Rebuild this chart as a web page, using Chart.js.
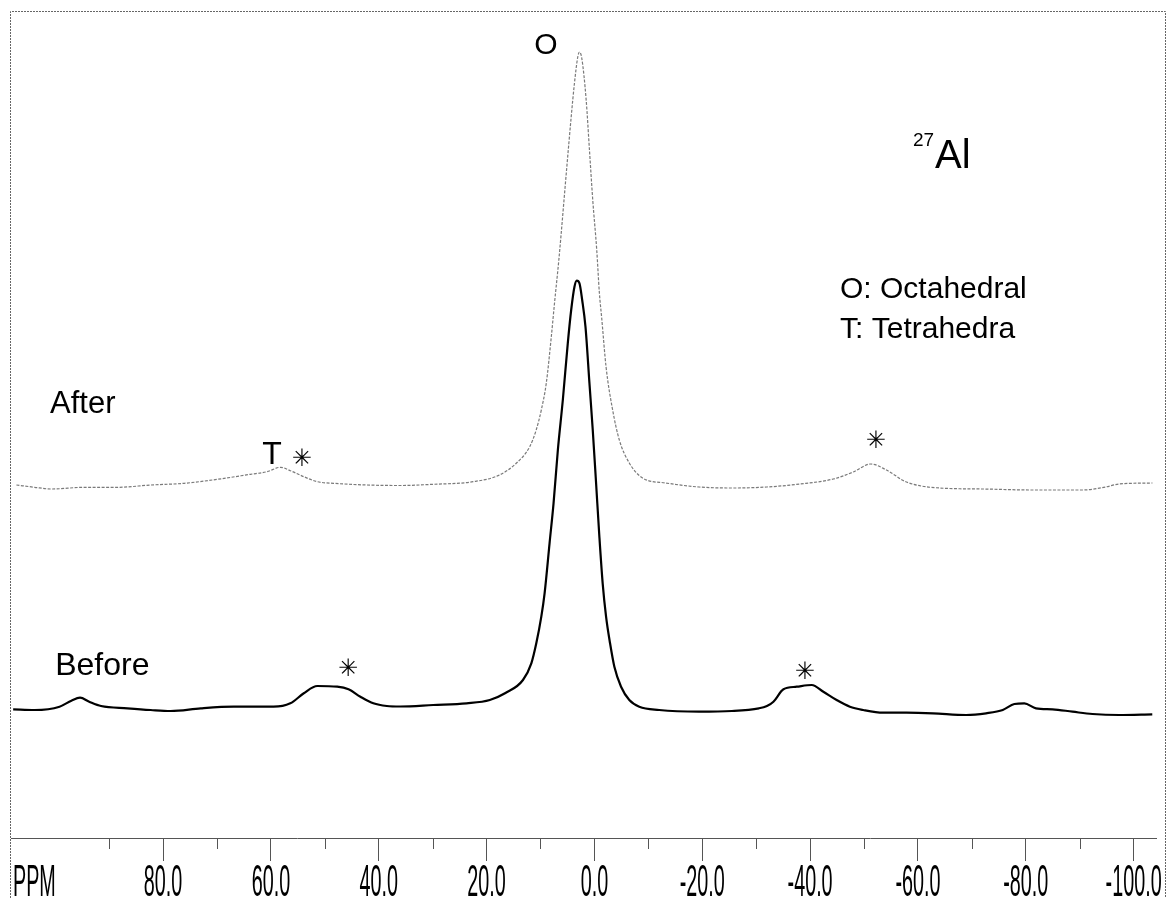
<!DOCTYPE html>
<html>
<head>
<meta charset="utf-8">
<script src="https://cdn.jsdelivr.net/npm/chart.js@4.4.1/dist/chart.umd.min.js"></script>
<style>
  html, body { margin: 0; padding: 0; background: #fff; }
  #wrap { width: 1168px; height: 898px; }
</style>
</head>
<body>
<div id="wrap"><canvas id="c" width="1168" height="898"></canvas></div>
<script>
// ---- data (chemical shift in ppm, intensity in arbitrary units) ----
const ppmBefore = [107.8,103.8,99.2,97.0,95.4,93.7,91.5,86.6,82.3,78.6,
  73.0,66.9,59.5,56.4,53.9,51.4,47.7,45.6,43.4,41.0,
  38.5,36.0,29.9,23.7,19.4,16.5,13.25,11.7,10.78,
  9.85,9.24,8.32,7.58,6.78,5.86,4.94,4.31,3.7,
  3.27,2.77,2.27,1.66,0.92,0.31,-0.31,-0.92,-1.53,-2.16,
  -2.9,-3.7,-4.94,-6.47,-8.32,-12.0,-19.4,-25.5,-30.5,-32.0,
  -33.2,-35.06,-37.52,-40.3,-42.46,-44.92,-47.38,-49.85,-53.55,-57.86,
  -62.79,-68.95,-72.64,-75.73,-77.88,-79.73,-81.89,-84.97,-88.67,-92.37,
  -97.29,-103.46];
const intBefore = [128.7,128,131.3,137.3,140.3,136.3,132,129.7,128,127,
  129.7,131.3,131.3,134.7,144.7,152,151.3,148.7,141.3,134.7,
  132,131.5,133,134.7,138,145,158,174.7,194.7,
  221.3,244.7,294.7,334.7,388,438,494.7,528,551.3,
  557.3,554.7,538,511.3,454.7,408,354.7,301.3,254.7,221.3,
  194.7,171.3,151.3,138,131.3,128,126.3,127,129.7,132,
  136.3,148.7,151.3,153,146.3,138,131.3,128,125.3,125.3,
  124.7,123,124.7,128,134,134.7,129.7,128.7,126.3,124,
  123,123.7];

const ppmAfter = [107.2,103.8,100.7,94.6,88.4,82.3,76.1,69.9,63.8,60.7,
  58.2,56.4,53.9,51.4,48.4,42.2,36.0,29.9,22.5,17.6,
  14.5,12.0,10.8,9.85,8.93,8.0,7.4,6.6,5.12,4.31,
  3.7,3.09,2.77,2.35,1.53,0.92,0.31,-0.43,-0.92,-1.35,
  -2.16,-3.38,-4.62,-6.47,-8.93,-13.25,-19.41,-25.56,-32.0,-38.13,
  -44.31,-48.0,-51.26,-54.16,-57.86,-64.0,-72.0,-81.3,-90.5,-94.8,
  -97.3,-103.5];
const intAfter = [353,350.7,349,350.7,350.7,353,354.7,358.7,363.7,366.3,
  370.7,367.3,361.3,356.3,354.7,353,352.5,353.7,356.3,363,
  374.7,391.3,408,428,454.7,501,535,578,671,721,
  755,781,786,780,738,688,638,588,545,520,
  471,428,398,375,360,355,351,350,351,354,
  359,366,374,368,356,350,349,348,348,351,
  354,355];

const tickValues = [80, 60, 40, 20, 0, -20, -40, -60, -80, -100];
const tickLabels = ['80.0','60.0','40.0','20.0','0.0','-20.0','-40.0','-60.0','-80.0','-100.0'];
const minorTickValues = [90, 70, 50, 30, 10, -10, -30, -50, -70, -90];
const axisName = 'PPM';

// text annotations placed in data coordinates (ppm, intensity)
const notes = [
  { text: 'O', ppm: 8.98, val: 784, align: 'center', size: 30 },
  { text: 'O: Octahedral', ppm: -45.55, val: 540, align: 'left', size: 30 },
  { text: 'T: Tetrahedra', ppm: -45.55, val: 500, align: 'left', size: 30 },
  { text: 'After', ppm: 100.96, val: 425, align: 'left', size: 31 },
  { text: 'Before', ppm: 100.0, val: 163, align: 'left', size: 32 },
  { text: 'T', ppm: 59.79, val: 374, align: 'center', size: 32 },
  { text: 'Al', ppm: -63.17, val: 670, align: 'left', size: 40 },
  { text: '27', ppm: -62.98, val: 692, align: 'right', size: 19 }
];
const stars = [
  { ppm: 54.25, val: 378 },
  { ppm: -52.2, val: 396 },
  { ppm: 45.7, val: 168 },
  { ppm: -39.0, val: 165 }
];

const SANS = '"Liberation Sans", Arial, Helvetica, sans-serif';

const decorPlugin = {
  id: 'decor',
  beforeDraw(chart) {
    const ctx = chart.ctx;
    ctx.save();
    ctx.fillStyle = '#fff';
    ctx.fillRect(0, 0, chart.width, chart.height);
    ctx.restore();
  },
  afterDraw(chart) {
    const ctx = chart.ctx;
    const xs = chart.scales.x, ys = chart.scales.y;
    const area = chart.chartArea;
    ctx.save();
    // frame
    ctx.strokeStyle = '#666';
    ctx.lineWidth = 1;
    ctx.setLineDash([2, 1]);
    ctx.beginPath();
    ctx.moveTo(area.left - 0.5, chart.height);
    ctx.lineTo(area.left - 0.5, area.top - 0.5);
    ctx.lineTo(chart.width - 2.5, area.top - 0.5);
    ctx.lineTo(chart.width - 2.5, chart.height);
    ctx.stroke();
    ctx.setLineDash([]);
    // minor ticks
    ctx.strokeStyle = '#555';
    ctx.beginPath();
    minorTickValues.forEach(v => {
      const px = Math.round(xs.getPixelForValue(v)) + 0.5;
      ctx.moveTo(px, area.bottom);
      ctx.lineTo(px, area.bottom + 11);
    });
    ctx.stroke();
    // tick labels (tall condensed lettering)
    ctx.fillStyle = '#000';
    ctx.font = '24px ' + SANS;
    const sx = 56 / ctx.measureText('-100.0').width;
    const sy = 1.86;
    const base = area.bottom + 58;
    ctx.textBaseline = 'alphabetic';
    xs.ticks.forEach((t, i) => {
      const px = xs.getPixelForValue(t.value);
      ctx.save();
      ctx.translate(px, base);
      ctx.scale(sx, sy);
      ctx.textAlign = 'center';
      ctx.fillText(tickLabels[tickValues.indexOf(t.value)], 0, 0);
      ctx.restore();
    });
    ctx.save();
    ctx.translate(area.left + 2, base);
    ctx.scale(sx, sy);
    ctx.textAlign = 'left';
    ctx.fillText(axisName, 0, 0);
    ctx.restore();
    // notes
    notes.forEach(n => {
      ctx.font = n.size + 'px ' + SANS;
      ctx.textAlign = n.align;
      ctx.textBaseline = 'alphabetic';
      ctx.fillText(n.text, xs.getPixelForValue(n.ppm), ys.getPixelForValue(n.val));
    });
    // asterisks
    ctx.font = '24px "DejaVu Sans", sans-serif';
    ctx.textAlign = 'center';
    ctx.textBaseline = 'middle';
    stars.forEach(s => {
      ctx.fillText('\u2733', xs.getPixelForValue(s.ppm), ys.getPixelForValue(s.val));
    });
    ctx.restore();
  }
};

new Chart(document.getElementById('c'), {
  type: 'line',
  data: {
    datasets: [
      {
        label: 'After',
        data: ppmAfter.map((x, i) => ({ x, y: intAfter[i] })),
        borderColor: '#7a7a7a',
        borderWidth: 1.2,
        borderDash: [3, 1.5],
        pointRadius: 0,
        fill: false,
        cubicInterpolationMode: 'monotone'
      },
      {
        label: 'Before',
        data: ppmBefore.map((x, i) => ({ x, y: intBefore[i] })),
        borderColor: '#000',
        borderWidth: 2.2,
        pointRadius: 0,
        fill: false,
        cubicInterpolationMode: 'monotone'
      }
    ]
  },
  options: {
    responsive: false,
    animation: false,
    events: [],
    layout: { padding: { left: 11, right: 12, top: 12, bottom: 37 } },
    plugins: { legend: { display: false }, tooltip: { enabled: false }, title: { display: false } },
    scales: {
      x: {
        type: 'linear',
        reverse: true,
        min: -104.15,
        max: 108.2,
        afterBuildTicks: (scale) => { scale.ticks = tickValues.map(v => ({ value: v })); },
        ticks: { display: false },
        grid: { drawOnChartArea: false, drawTicks: true, tickLength: 23, tickColor: '#555', color: '#555' },
        border: { display: true, color: '#555', width: 1 }
      },
      y: {
        display: false,
        min: 0,
        max: 826
      }
    }
  },
  plugins: [decorPlugin]
});
</script>
</body>
</html>
